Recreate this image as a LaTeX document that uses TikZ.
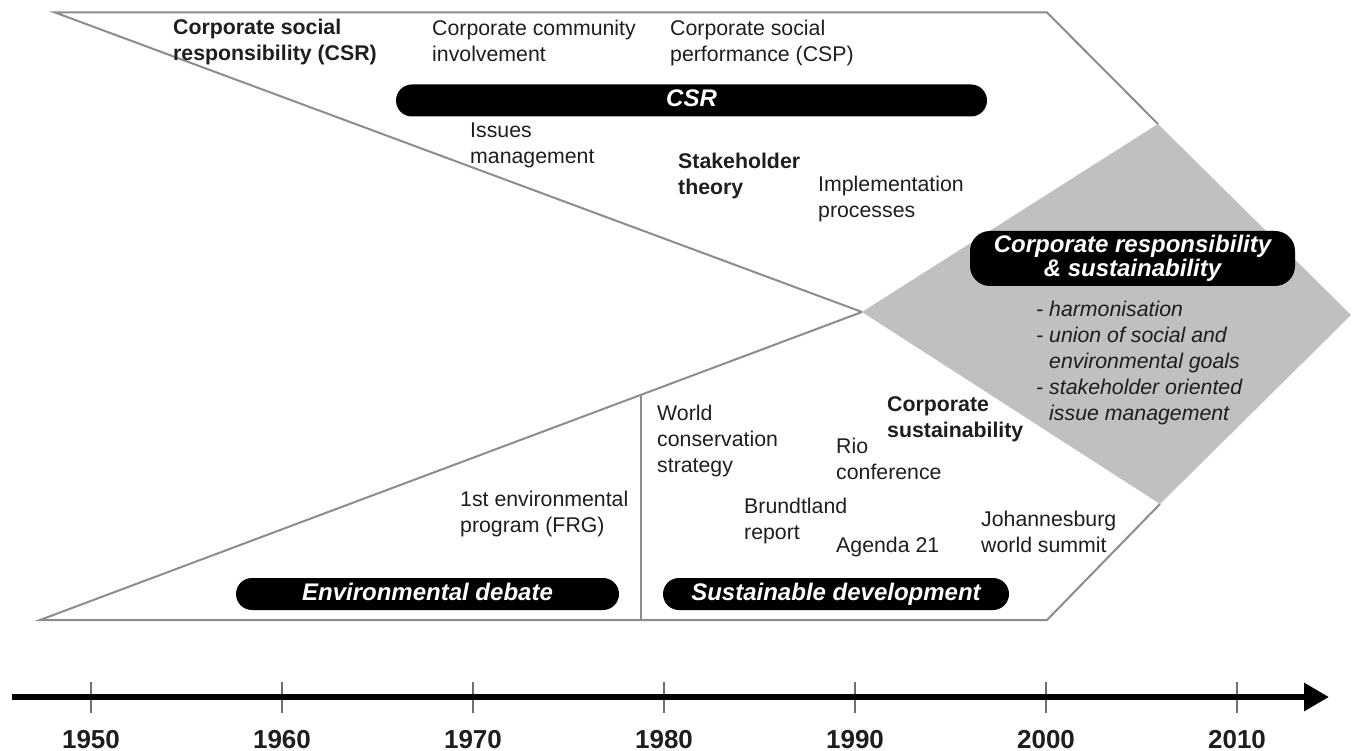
\documentclass[tikz,border=0pt]{standalone}
\usepackage{fontspec}
\setmainfont{Liberation Sans}
\usetikzlibrary{arrows.meta,calc}
\definecolor{edgegrey}{RGB}{140,140,140}
\definecolor{diamondgrey}{RGB}{192,192,192}
\definecolor{txt}{RGB}{30,30,30}
\tikzset{
  lbl/.style={anchor=base west, align=left, inner sep=0pt, text=txt,
    font=\fontsize{21.3}{26}\selectfont},
  lblb/.style={lbl, font=\fontsize{21.3}{26}\selectfont\bfseries},
  lbli/.style={lbl, font=\fontsize{21.3}{26}\selectfont\itshape},
  pill/.style={fill=black, rounded corners=16pt, text=white, inner sep=0pt,
    minimum height=32pt, align=center,
    font=\fontsize{24}{24}\selectfont\bfseries\itshape},
  pillone/.style={pill, text height=17.5pt, text depth=5pt},
  outline/.style={draw=edgegrey, line width=2pt, line join=miter},
  tickmark/.style={draw=edgegrey!80!black, line width=1.2pt},
  yearlbl/.style={anchor=base, inner sep=0pt, text=txt,
    font=\fontsize{26}{26}\selectfont\bfseries},
}
\begin{document}
\begin{tikzpicture}[x=1pt,y=-1pt]
\useasboundingbox (0,0) rectangle (1360,751);
% key points
\coordinate (TL) at (55,12.5);
\coordinate (TR) at (1047,12.5);
\coordinate (DT) at (1158,124);
\coordinate (DR) at (1351,315);
\coordinate (DB) at (1160,504);
\coordinate (DL) at (862,312);
\coordinate (BL) at (40,620);
\coordinate (BR) at (1047,620);
\coordinate (VT) at ($(BL)!0.7311!(DL)$);
\coordinate (VB) at (641,620);
% diamond
\fill[diamondgrey] (DT) -- (DR) -- (DB) -- (DL) -- cycle;
% outlines
\draw[outline] (DL) -- (TL) -- (TR) -- (DT);
\draw[outline] (DL) -- (BL) -- (BR) -- (DB);
\draw[outline, line width=1.6pt] (VT) -- (VB);
% pills
\node[pillone, minimum width=591pt] (csr) at (691.5,100.5) {CSR};
\node[pill, minimum width=325pt, minimum height=55pt, rounded corners=20pt] (crs) at (1132.5,258.5) {Corporate responsibility\\\& sustainability};
\node[pillone, minimum width=383pt] (env) at (427.5,594) {Environmental debate};
\node[pillone, minimum width=346pt] (sd) at (836,594) {Sustainable development};
% upper texts (anchor = baseline of last line)
\node[lblb] (csrt) at (173,61) {Corporate social\\responsibility (CSR)};
\node[lbl] (cci) at (432,62) {Corporate community\\involvement};
\node[lbl] (csp) at (670,62) {Corporate social\\performance (CSP)};
\node[lbl] (iss) at (470,164) {Issues\\management};
\node[lblb] (stk) at (678,195) {Stakeholder\\theory};
\node[lbl] (imp) at (818,218) {Implementation\\processes};
% diamond list
\node[lbli] (list) at (1036,420) {- harmonisation\\- union of social and\\\phantom{- }environmental goals\\- stakeholder oriented\\\phantom{- }issue management};
% lower texts
\node[lblb] (cs) at (887,437) {Corporate\\sustainability};
\node[lbl] (wcs) at (657,472) {World\\conservation\\strategy};
\node[lbl] (rio) at (836,479) {Rio\\conference};
\node[lbl] (bru) at (744,539) {Brundtland\\report};
\node[lbl] (ag) at (836,552) {Agenda 21};
\node[lbl] (joh) at (981,552) {Johannesburg\\world summit};
\node[lbl] (fep) at (460,532) {1st environmental\\program (FRG)};
% timeline
\coordinate (axS) at (12,697);
\coordinate (axE) at (1329,697);
\foreach \i/\yr in {0/1950,1/1960,2/1970,3/1980,4/1990,5/2000,6/2010}{
  \pgfmathsetmacro{\xx}{91+191*\i}
  \draw[tickmark] (\xx,682) -- (\xx,713);
  \node[yearlbl] (y\yr) at (\xx,748) {\yr};
}
\draw[line width=6pt, -{Triangle[length=25pt,width=27pt]}] (axS) -- (axE);
\end{tikzpicture}
\end{document}
